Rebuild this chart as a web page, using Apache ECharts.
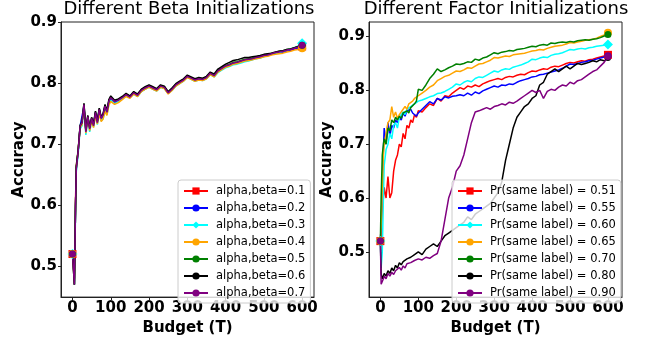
<!DOCTYPE html>
<html>
<head>
<meta charset="utf-8">
<script src="https://cdn.jsdelivr.net/npm/echarts@6/dist/echarts.min.js"></script>
<style>
  html, body { margin: 0; padding: 0; background: #fff; }
  #chart { width: 651px; height: 341px; }
</style>
</head>
<body>
<div id="chart"></div>
<script>
// budget steps shared by every curve (5s up to 100, then 10s)
const budget = [0, 2, 5, 8, 10, 15, 20, 25, 30, 35, 40, 45, 50, 55, 60, 65, 70, 75, 80, 85, 90, 95, 100,
  110, 120, 130, 140, 150, 160, 170, 180, 190, 200,
  210, 220, 230, 240, 250, 260, 270, 280, 290, 300,
  310, 320, 330, 340, 350, 360, 370, 380, 390, 400,
  410, 420, 430, 440, 450, 460, 470, 480, 490, 500,
  510, 520, 530, 540, 550, 560, 570, 580, 590, 600];

const xTicks = [0, 100, 200, 300, 400, 500, 600];
const yTicks = [0.5, 0.6, 0.7, 0.8, 0.9];

// ---- left panel: alpha,beta initializations ----
const betaNames = ["alpha,beta=0.1", "alpha,beta=0.2", "alpha,beta=0.3", "alpha,beta=0.4",
  "alpha,beta=0.5", "alpha,beta=0.6", "alpha,beta=0.7"];

const beta01 = [0.52, 0.50, 0.48, 0.61, 0.665, 0.69, 0.728, 0.737, 0.76, 0.722, 0.744, 0.728, 0.74, 0.732, 0.75, 0.737, 0.755, 0.74, 0.746, 0.76, 0.75, 0.768, 0.774,
  0.768, 0.771, 0.775, 0.78, 0.776, 0.783, 0.779, 0.787, 0.79, 0.794,
  0.79, 0.788, 0.794, 0.792, 0.783, 0.789, 0.796, 0.8, 0.804, 0.81,
  0.807, 0.804, 0.806, 0.805, 0.808, 0.815, 0.811, 0.819, 0.823, 0.827,
  0.829, 0.832, 0.833, 0.835, 0.837, 0.838, 0.839, 0.841, 0.842, 0.844,
  0.845, 0.847, 0.849, 0.85, 0.851, 0.853, 0.854, 0.856, 0.858, 0.86];
const beta02 = [0.52, 0.51, 0.47, 0.6, 0.66, 0.688, 0.73, 0.733, 0.762, 0.72, 0.743, 0.726, 0.741, 0.731, 0.751, 0.736, 0.756, 0.741, 0.747, 0.761, 0.751, 0.769, 0.775,
  0.769, 0.771, 0.776, 0.78, 0.777, 0.783, 0.78, 0.787, 0.791, 0.794,
  0.791, 0.788, 0.794, 0.792, 0.784, 0.789, 0.796, 0.8, 0.804, 0.81,
  0.807, 0.804, 0.806, 0.805, 0.808, 0.815, 0.811, 0.819, 0.823, 0.826,
  0.829, 0.832, 0.833, 0.835, 0.836, 0.838, 0.839, 0.841, 0.842, 0.845,
  0.845, 0.847, 0.849, 0.85, 0.851, 0.853, 0.854, 0.856, 0.858, 0.861];
const beta03 = [0.52, 0.5, 0.47, 0.59, 0.655, 0.685, 0.725, 0.73, 0.758, 0.715, 0.74, 0.72, 0.738, 0.728, 0.748, 0.732, 0.752, 0.738, 0.742, 0.755, 0.748, 0.765, 0.772,
  0.766, 0.77, 0.774, 0.779, 0.776, 0.782, 0.778, 0.786, 0.79, 0.793,
  0.79, 0.787, 0.793, 0.791, 0.783, 0.788, 0.795, 0.799, 0.803, 0.81,
  0.806, 0.803, 0.805, 0.804, 0.807, 0.814, 0.81, 0.817, 0.821, 0.825,
  0.827, 0.83, 0.831, 0.833, 0.835, 0.836, 0.838, 0.84, 0.841, 0.843,
  0.845, 0.847, 0.849, 0.85, 0.852, 0.854, 0.856, 0.858, 0.861, 0.865];
const beta04 = [0.52, 0.5, 0.47, 0.6, 0.66, 0.69, 0.727, 0.732, 0.76, 0.718, 0.742, 0.722, 0.737, 0.727, 0.746, 0.733, 0.75, 0.737, 0.741, 0.754, 0.747, 0.764, 0.77,
  0.765, 0.768, 0.773, 0.778, 0.775, 0.782, 0.778, 0.786, 0.79, 0.793,
  0.79, 0.787, 0.793, 0.791, 0.782, 0.788, 0.795, 0.799, 0.803, 0.809,
  0.806, 0.803, 0.805, 0.804, 0.807, 0.814, 0.81, 0.818, 0.822, 0.826,
  0.828, 0.831, 0.832, 0.834, 0.836, 0.837, 0.838, 0.84, 0.841, 0.843,
  0.844, 0.846, 0.847, 0.848, 0.849, 0.851, 0.852, 0.854, 0.855, 0.857];
const beta05 = [0.52, 0.51, 0.47, 0.6, 0.665, 0.692, 0.731, 0.736, 0.766, 0.722, 0.746, 0.727, 0.743, 0.732, 0.753, 0.737, 0.758, 0.743, 0.749, 0.763, 0.753, 0.771, 0.777,
  0.771, 0.773, 0.777, 0.782, 0.778, 0.785, 0.781, 0.789, 0.793, 0.796,
  0.793, 0.79, 0.796, 0.794, 0.785, 0.791, 0.798, 0.802, 0.806, 0.812,
  0.809, 0.806, 0.808, 0.807, 0.81, 0.817, 0.813, 0.821, 0.825, 0.829,
  0.831, 0.834, 0.835, 0.837, 0.839, 0.84, 0.841, 0.843, 0.844, 0.846,
  0.847, 0.849, 0.85, 0.852, 0.853, 0.855, 0.856, 0.858, 0.86, 0.862];
const beta06 = [0.52, 0.5, 0.47, 0.6, 0.662, 0.69, 0.73, 0.736, 0.767, 0.722, 0.747, 0.727, 0.744, 0.733, 0.754, 0.738, 0.759, 0.744, 0.75, 0.765, 0.755, 0.773, 0.779,
  0.772, 0.774, 0.778, 0.783, 0.779, 0.786, 0.782, 0.79, 0.794, 0.797,
  0.794, 0.791, 0.797, 0.795, 0.786, 0.792, 0.799, 0.803, 0.807, 0.813,
  0.81, 0.807, 0.809, 0.808, 0.811, 0.818, 0.815, 0.823, 0.827, 0.831,
  0.834, 0.837, 0.838, 0.84, 0.842, 0.842, 0.843, 0.844, 0.845, 0.847,
  0.848, 0.849, 0.851, 0.852, 0.853, 0.855, 0.856, 0.858, 0.86, 0.862];
const beta07 = [0.52, 0.50, 0.47, 0.60, 0.66, 0.69, 0.73, 0.735, 0.765, 0.72, 0.745, 0.725, 0.742, 0.73, 0.752, 0.735, 0.757, 0.742, 0.748, 0.762, 0.752, 0.77, 0.776,
  0.77, 0.772, 0.776, 0.781, 0.777, 0.784, 0.78, 0.788, 0.792, 0.795,
  0.792, 0.789, 0.795, 0.793, 0.784, 0.79, 0.797, 0.801, 0.805, 0.811,
  0.808, 0.805, 0.807, 0.806, 0.809, 0.816, 0.812, 0.82, 0.824, 0.828,
  0.83, 0.833, 0.834, 0.836, 0.838, 0.839, 0.84, 0.842, 0.843, 0.845,
  0.846, 0.848, 0.85, 0.851, 0.852, 0.854, 0.855, 0.857, 0.859, 0.862];

// ---- right panel: factor initializations ----
const factorNames = ["Pr(same label) = 0.51", "Pr(same label) = 0.55", "Pr(same label) = 0.60",
  "Pr(same label) = 0.65", "Pr(same label) = 0.70", "Pr(same label) = 0.80", "Pr(same label) = 0.90"];

const pr051 = [0.52, 0.53, 0.58, 0.6, 0.62, 0.6, 0.64, 0.6, 0.61, 0.65, 0.67, 0.68, 0.7, 0.695, 0.72, 0.71, 0.735, 0.73, 0.745, 0.74, 0.755, 0.75, 0.762,
  0.76, 0.768, 0.775, 0.772, 0.785, 0.78, 0.79, 0.788, 0.795, 0.8,
  0.805, 0.802, 0.808, 0.806, 0.81, 0.807, 0.812, 0.815, 0.818, 0.82,
  0.822, 0.82, 0.824, 0.826, 0.825, 0.828, 0.83, 0.829, 0.833, 0.836,
  0.835, 0.838, 0.84, 0.839, 0.843, 0.845, 0.844, 0.847, 0.85, 0.852,
  0.851, 0.853, 0.855, 0.854, 0.857, 0.858, 0.86, 0.862, 0.864, 0.866];
const pr055 = [0.52, 0.55, 0.62, 0.69, 0.73, 0.7, 0.74, 0.715, 0.735, 0.73, 0.745, 0.74, 0.75, 0.745, 0.758, 0.752, 0.762, 0.76, 0.765, 0.758, 0.755, 0.752, 0.758,
  0.765, 0.772, 0.779, 0.775, 0.785, 0.782, 0.788, 0.786, 0.789, 0.79,
  0.792, 0.79, 0.795, 0.791, 0.797, 0.794, 0.799, 0.802, 0.805, 0.808,
  0.806, 0.81, 0.809, 0.812, 0.811, 0.815, 0.818, 0.82, 0.822, 0.825,
  0.826, 0.829, 0.83, 0.832, 0.834, 0.836, 0.838, 0.841, 0.845, 0.849,
  0.848, 0.85, 0.852, 0.853, 0.855, 0.856, 0.858, 0.86, 0.862, 0.864];
const pr060 = [0.52, 0.47, 0.5, 0.6, 0.66, 0.69, 0.7, 0.72, 0.71, 0.735, 0.74, 0.73, 0.75, 0.748, 0.76, 0.755, 0.765, 0.762, 0.77, 0.768, 0.775, 0.772, 0.78,
  0.782, 0.785, 0.788, 0.79, 0.794, 0.795, 0.798, 0.802, 0.806, 0.812,
  0.81, 0.815, 0.818, 0.816, 0.822, 0.825, 0.824, 0.828, 0.832, 0.836,
  0.834, 0.838, 0.84, 0.839, 0.843, 0.845, 0.847, 0.85, 0.853, 0.858,
  0.857, 0.86, 0.862, 0.861, 0.865, 0.867, 0.868, 0.87, 0.873, 0.876,
  0.875, 0.877, 0.878, 0.877, 0.879, 0.88, 0.882, 0.883, 0.884, 0.885];
const pr065 = [0.52, 0.55, 0.62, 0.68, 0.7, 0.72, 0.74, 0.745, 0.77, 0.75, 0.76, 0.748, 0.755, 0.76, 0.758, 0.77, 0.765, 0.775, 0.772, 0.78, 0.785, 0.782, 0.79,
  0.795, 0.8, 0.806, 0.81, 0.818, 0.822, 0.826, 0.828, 0.832, 0.836,
  0.835, 0.838, 0.842, 0.841, 0.845, 0.849, 0.85, 0.853, 0.856, 0.861,
  0.86, 0.862, 0.864, 0.863, 0.866, 0.867, 0.868, 0.869, 0.871, 0.873,
  0.874, 0.876, 0.875, 0.878, 0.88, 0.882, 0.883, 0.884, 0.886, 0.889,
  0.888, 0.89, 0.891, 0.893, 0.894, 0.895, 0.897, 0.9, 0.903, 0.907];
const pr070 = [0.52, 0.6, 0.68, 0.7, 0.71, 0.7, 0.73, 0.725, 0.745, 0.74, 0.75, 0.745, 0.752, 0.748, 0.758, 0.755, 0.762, 0.758, 0.768, 0.765, 0.775, 0.78, 0.802,
  0.8, 0.81, 0.822, 0.83, 0.84, 0.835, 0.838, 0.842, 0.845, 0.849,
  0.848, 0.85, 0.853, 0.852, 0.858, 0.856, 0.86, 0.862, 0.866, 0.87,
  0.868, 0.871, 0.872, 0.874, 0.873, 0.876, 0.877, 0.878, 0.88, 0.882,
  0.881, 0.884, 0.885, 0.884, 0.888, 0.887, 0.889, 0.89, 0.889, 0.891,
  0.89, 0.892, 0.893, 0.894, 0.893, 0.895, 0.896, 0.898, 0.901, 0.904];
const pr080 = [0.52, 0.46, 0.45, 0.455, 0.46, 0.455, 0.465, 0.46, 0.47, 0.465, 0.475, 0.47, 0.48, 0.476, 0.482, 0.48, 0.487, 0.485, 0.49, 0.488, 0.495, 0.492, 0.5,
  0.495, 0.505, 0.51, 0.515, 0.51, 0.52, 0.53, 0.535, 0.54, 0.545,
  0.55, 0.555, 0.565, 0.56, 0.57, 0.575, 0.58, 0.585, 0.59, 0.6,
  0.61, 0.63, 0.67, 0.7, 0.73, 0.75, 0.76, 0.77, 0.775, 0.785,
  0.79, 0.81, 0.815, 0.83, 0.835, 0.84, 0.835, 0.84, 0.845, 0.84,
  0.845, 0.85, 0.848, 0.85, 0.852, 0.855, 0.853, 0.857, 0.855, 0.86];
const pr090 = [0.52, 0.44, 0.445, 0.45, 0.455, 0.45, 0.46, 0.455, 0.462, 0.458, 0.465, 0.468, 0.471, 0.466, 0.474, 0.47, 0.478, 0.475, 0.48, 0.478, 0.484, 0.481, 0.487,
  0.485, 0.49, 0.488, 0.493, 0.497, 0.52, 0.56, 0.6, 0.62, 0.65,
  0.66, 0.68, 0.71, 0.74, 0.76, 0.762, 0.765, 0.768, 0.765, 0.77,
  0.772, 0.775, 0.773, 0.778, 0.776, 0.78, 0.785, 0.79, 0.795, 0.8,
  0.796, 0.8, 0.785, 0.798, 0.802, 0.8, 0.806, 0.81, 0.808, 0.815,
  0.812, 0.818, 0.82, 0.825, 0.83, 0.835, 0.838, 0.845, 0.852, 0.863];

// matplotlib default-ish colours, one per curve (same order in both panels)
const COLORS = ["#ff0000", "#0000ff", "#00ffff", "#ffa500", "#008000", "#000000", "#800080"];
const SYMBOLS = ["rect", "circle", "diamond", "circle", "circle", "circle", "circle"];
const SIZES = [8, 7, 10, 8, 7, 6, 7];

const FONT = "DejaVu Sans";
const INK = "#222";

const pairs = (ys) => budget.map((b, i) => [b, ys[i]]);

// markers only at the first and last point, like markevery in the original
function lineSeries(name, ys, k, panel) {
  const last = ys.length - 1;
  return {
    name,
    type: "line",
    xAxisIndex: panel,
    yAxisIndex: panel,
    data: pairs(ys),
    color: COLORS[k],
    symbol: SYMBOLS[k],
    symbolSize: (v, p) => (p.dataIndex === 0 || p.dataIndex === last ? SIZES[k] : 0),
    showSymbol: true,
    lineStyle: { width: 1.5 },
    silent: true,
  };
}

function xAxis(panel, max) {
  return {
    type: "value",
    gridIndex: panel,
    min: -30,
    max,
    name: "Budget (T)",
    nameLocation: "middle",
    nameGap: 18,
    nameTextStyle: { fontFamily: FONT, fontSize: 15, fontWeight: "bold", color: "#000" },
    splitLine: { show: false },
    axisLine: { show: true, onZero: false, lineStyle: { color: INK } },
    axisTick: { show: true, length: 3, customValues: xTicks, lineStyle: { color: INK } },
    axisLabel: { customValues: xTicks, margin: 4, fontFamily: FONT, fontSize: 15, fontWeight: "bold", color: "#000" },
  };
}

function yAxis(panel, min, max) {
  return {
    type: "value",
    gridIndex: panel,
    min,
    max,
    name: "Accuracy",
    nameLocation: "middle",
    nameGap: 34,
    nameTextStyle: { fontFamily: FONT, fontSize: 15, fontWeight: "bold", color: "#000" },
    splitLine: { show: false },
    axisLine: { show: true, onZero: false, lineStyle: { color: INK } },
    axisTick: { show: true, length: 3, customValues: yTicks, lineStyle: { color: INK } },
    axisLabel: { customValues: yTicks, margin: 4, fontFamily: FONT, fontSize: 15, fontWeight: "bold", color: "#000",
      formatter: (v) => v.toFixed(1) },
  };
}

function legend(names, left) {
  return {
    data: names,
    orient: "vertical",
    left,
    top: 180,
    padding: [5, 5, 4, 5],
    itemWidth: 24,
    itemHeight: 9,
    itemGap: 5,
    backgroundColor: "rgba(255,255,255,0.8)",
    borderColor: "#cccccc",
    borderWidth: 1,
    borderRadius: 3,
    textStyle: { fontFamily: FONT, fontSize: 11.5, lineHeight: 12, color: "#000", padding: [0, 0, 0, 3] },
    selectedMode: false,
  };
}

const chart = echarts.init(document.getElementById("chart"), null, { renderer: "canvas" });
const betaData = [beta01, beta02, beta03, beta04, beta05, beta06, beta07];
const prData = [pr051, pr055, pr060, pr065, pr070, pr080, pr090];

chart.setOption({
  animation: false,
  backgroundColor: "#fff",
  title: [
    { text: "Different Beta Initializations", left: 189, top: 0, padding: 0, textAlign: "center",
      textStyle: { fontFamily: FONT, fontSize: 18, fontWeight: "normal", color: "#000" } },
    { text: "Different Factor Initializations", left: 496, top: 0, padding: 0, textAlign: "center",
      textStyle: { fontFamily: FONT, fontSize: 18, fontWeight: "normal", color: "#000" } },
  ],
  grid: [
    { left: 61, top: 22, width: 253, height: 280, show: true, borderColor: INK, borderWidth: 1, backgroundColor: "transparent" },
    { left: 369, top: 22, width: 253, height: 280, show: true, borderColor: INK, borderWidth: 1, backgroundColor: "transparent" },
  ],
  xAxis: [xAxis(0, 631), xAxis(1, 637)],
  yAxis: [yAxis(0, 0.4495, 0.9), yAxis(1, 0.416, 0.927)],
  legend: [legend(betaNames, 178), legend(factorNames, 452)],
  series: [
    ...betaNames.map((n, k) => lineSeries(n, betaData[k], k, 0)),
    ...factorNames.map((n, k) => lineSeries(n, prData[k], k, 1)),
  ],
});
</script>
</body>
</html>
